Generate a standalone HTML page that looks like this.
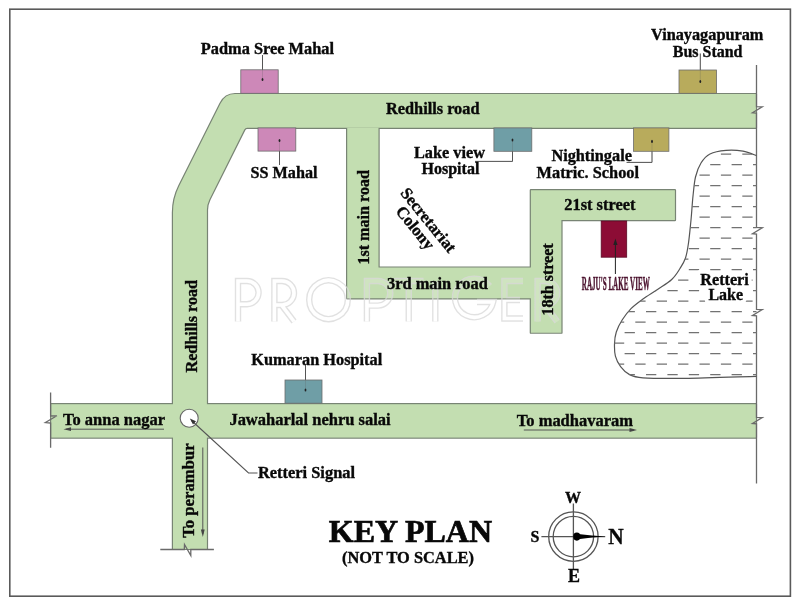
<!DOCTYPE html>
<html><head><meta charset="utf-8"><style>
html,body{margin:0;padding:0;background:#fff;width:800px;height:607px;overflow:hidden}
svg{display:block;position:absolute;left:0;top:0;filter:blur(0.35px)}
text{font-family:"Liberation Serif",serif;font-weight:bold;fill:#080808;stroke:#080808;stroke-width:0.35px}
</style></head><body>
<svg width="800" height="607" viewBox="0 0 800 607">
<rect x="0" y="0" width="800" height="607" fill="#fff"/>
<!-- frame -->
<rect x="9.8" y="9.2" width="780.6" height="587" fill="none" stroke="#5a5a5a" stroke-width="1.6"/>

<!-- roads: stroke layer -->
<g fill="#c3deb1" stroke="#788474" stroke-width="2.4" stroke-linejoin="round">
  <path d="M755.9 94.1 L235 94.1 Q225.25 94.1 220.55 103.5 L179.26 186.1 Q173 198.6 173 212.6 L173 548.9 L206.9 548.9 L206.9 210 Q206.9 204.4 209.4 199.4 L244.3 129.6 Q245.2 127.8 247.2 127.8 L755.9 127.8 Z"/>
  <rect x="51.2" y="404.2" width="704.7" height="33.4"/>
  <path d="M347.2 127.8 L347.2 298.3 L530.9 298.3 L530.9 332.65 L561.4 332.65 L561.4 220 L674.9 220 L674.9 190.3 L530.9 190.3 L530.9 267.6 L378.5 267.6 L378.5 127.8 Z"/>
</g>
<g fill="#c3deb1" stroke="none">
  <path d="M755.9 94.1 L235 94.1 Q225.25 94.1 220.55 103.5 L179.26 186.1 Q173 198.6 173 212.6 L173 548.9 L206.9 548.9 L206.9 210 Q206.9 204.4 209.4 199.4 L244.3 129.6 Q245.2 127.8 247.2 127.8 L755.9 127.8 Z"/>
  <rect x="51.2" y="404.2" width="704.7" height="33.4"/>
  <path d="M347.2 127.8 L347.2 298.3 L530.9 298.3 L530.9 332.65 L561.4 332.65 L561.4 220 L674.9 220 L674.9 190.3 L530.9 190.3 L530.9 267.6 L378.5 267.6 L378.5 127.8 Z"/>
</g>
<!-- watermark -->
<defs>
  <path id="wm" d="M238 321.5 V281 H247 A11.6 11.6 0 0 1 247 304.2 H238 M274.4 321.5 V281 H282 A12 12 0 0 1 282 305 H274.4 M281.5 305 L294 321.5 M347.8 299.7 A19.3 19.3 0 1 1 347.8 299.6 M366.9 321.5 V281 H378 A12.3 12.3 0 0 1 378 305.6 H366.9 M394 281 H423.5 M408.75 281 V321.5 M435.3 281 V321.5 M489.5 286 A19.3 19.3 0 1 0 493.2 302 H477 M523 281 H504.4 V318.5 H523 M504.4 300 H520 M537.6 321.5 V281 H545.2 A12 12 0 0 1 545.2 305 H537.6 M544.7 305 L557.2 321.5" fill="none"/>
  <mask id="wmmask" maskUnits="userSpaceOnUse" x="0" y="0" width="800" height="607">
    <use href="#wm" stroke="#fff" stroke-width="6.4"/>
    <use href="#wm" stroke="#000" stroke-width="3.6"/>
  </mask>
</defs>
<rect x="0" y="0" width="800" height="607" fill="#dadada" opacity="0.8" mask="url(#wmmask)"/>
<use href="#wm" stroke="#fff" stroke-width="3.6" opacity="0.2"/>
<!-- break lines -->
<g fill="none" stroke="#6a6a6a" stroke-width="1.3">
  <path d="M756.5 65 L756.5 106.6 L762.3 106.9 L752.5 112.8 L756.5 113.1 L756.5 227.5 L762.3 227.8 L752.5 233.7 L756.5 234.0 L756.5 309.3 L762.3 309.6 L752.5 315.5 L756.5 315.8 L756.5 417.3 L762.3 417.6 L752.5 423.5 L756.5 423.8 L756.5 483.5"/>
  <path d="M50.6 392.5 L50.6 416 L56.9 415.8 L45.4 422.5 L50.6 423 L50.6 447.8"/>
  <path d="M160.3 549.5 L184.3 549.5 L184.5 544.5 L190.8 555.6 L190.8 549.5 L213.9 549.5"/>
</g>

<!-- lake -->
<path d="M756.5 155.7 C754.2 154.9 748.1 152.1 743.0 151.2 C737.9 150.3 731.5 149.9 726.0 150.4 C720.5 150.9 714.2 151.9 710.0 154.0 C705.8 156.1 703.4 159.2 701.0 163.0 C698.6 166.8 696.8 171.5 695.5 177.0 C694.2 182.5 693.8 188.8 693.0 196.0 C692.2 203.2 691.8 212.2 691.0 220.0 C690.2 227.8 689.4 236.7 688.5 243.0 C687.6 249.3 686.9 253.8 685.5 258.0 C684.1 262.2 682.3 264.9 680.0 268.5 C677.7 272.1 675.5 276.0 671.7 279.5 C668.0 283.0 662.3 286.2 657.5 289.5 C652.7 292.8 647.4 295.8 643.0 299.0 C638.6 302.2 634.5 305.1 631.0 308.6 C627.5 312.1 624.8 315.9 622.3 319.8 C619.8 323.7 617.6 328.0 616.3 332.0 C615.0 336.0 614.6 340.0 614.5 344.0 C614.4 348.0 614.4 352.4 615.4 356.2 C616.4 360.0 618.3 363.6 620.6 366.6 C622.9 369.6 625.5 372.5 629.2 374.4 C632.9 376.3 633.7 377.1 643.0 377.8 C652.3 378.5 666.1 378.6 685.0 378.3 C703.9 378.1 744.6 376.6 756.5 376.3" fill="none" stroke="#555" stroke-width="1.2"/>

<!-- leader lines -->
<g fill="none" stroke="#555" stroke-width="1">
  <path d="M262.5 55 L262.5 79"/>
  <path d="M700.3 53.5 L700.3 81"/>
  <path d="M279.5 140.5 L279.5 165"/>
  <path d="M512.5 140 L512.5 161.4 L475 161.4"/>
  <path d="M652 141.4 L652 162.4 L626.6 162.4"/>
  <path d="M305.5 365 L305.5 390"/>
</g>
<!-- landmark boxes -->
<g stroke="#6d6d6d" stroke-width="0.8">
  <rect x="240.8" y="69.8" width="37.4" height="23.5" fill="#cd88b8"/>
  <rect x="258" y="127.9" width="37.8" height="23.2" fill="#cd88b8"/>
  <rect x="493.9" y="127.9" width="37.9" height="23.4" fill="#6f9ea6"/>
  <rect x="679" y="70" width="37.6" height="23.3" fill="#b8ab5c"/>
  <rect x="633.5" y="127.9" width="35.4" height="23.4" fill="#b8ab5c"/>
  <rect x="285" y="380" width="37" height="23.2" fill="#6f9ea6"/>
  <rect x="601.2" y="221" width="25.5" height="36.2" fill="#8c0c35" stroke="#5a0a25"/>
</g>
<!-- faint leaders over boxes -->
<g fill="none" stroke="#555" stroke-width="1" opacity="0.22">
  <path d="M262.5 55 L262.5 79"/>
  <path d="M700.3 53.5 L700.3 81"/>
  <path d="M279.5 140.5 L279.5 165"/>
  <path d="M512.5 140 L512.5 161.4 L475 161.4"/>
  <path d="M652 141.4 L652 162.4 L626.6 162.4"/>
  <path d="M305.5 365 L305.5 390"/>
</g>
<g fill="#222">
  <ellipse cx="262.5" cy="79.5" rx="0.9" ry="1.6"/>
  <ellipse cx="700.3" cy="81.5" rx="0.9" ry="1.6"/>
  <ellipse cx="279.5" cy="140.5" rx="0.9" ry="1.6"/>
  <ellipse cx="512.5" cy="140" rx="0.9" ry="1.6"/>
  <ellipse cx="652" cy="141.4" rx="0.9" ry="1.6"/>
  <ellipse cx="305.5" cy="390" rx="0.9" ry="1.6"/>
</g>
<!-- raju arrow -->
<path d="M615.4 274 L615.4 243" stroke="#222" stroke-width="1" fill="none"/>
<path d="M615.4 238.5 L613.3 245 L617.5 245 Z" fill="#222"/>

<!-- signal -->
<circle cx="189.2" cy="418.2" r="9" fill="#fff" stroke="#666" stroke-width="1.1"/>
<path d="M191.5 420.5 L248.5 473 L257.5 473" fill="none" stroke="#555" stroke-width="1.1"/>
<path d="M189.8 418.6 L196 421.2 L193 424.4 Z" fill="#333"/>

<!-- direction arrows -->
<g fill="none" stroke="#555" stroke-width="1">
  <path d="M66 429.2 L164 429.2"/>
  <path d="M523.8 430 L634 430"/>
  <path d="M202.8 447.5 L202.8 534"/>
</g>
<g fill="#444">
  <path d="M63.5 429.2 L71 427.3 L71 431.1 Z"/>
  <path d="M637 430 L629.5 428.1 L629.5 431.9 Z"/>
  <path d="M202.8 537 L200.9 529.5 L204.7 529.5 Z"/>
</g>

<!-- lake dashes -->
<clipPath id="lk"><path d="M756.5 155.7 C754.2 154.9 748.1 152.1 743.0 151.2 C737.9 150.3 731.5 149.9 726.0 150.4 C720.5 150.9 714.2 151.9 710.0 154.0 C705.8 156.1 703.4 159.2 701.0 163.0 C698.6 166.8 696.8 171.5 695.5 177.0 C694.2 182.5 693.8 188.8 693.0 196.0 C692.2 203.2 691.8 212.2 691.0 220.0 C690.2 227.8 689.4 236.7 688.5 243.0 C687.6 249.3 686.9 253.8 685.5 258.0 C684.1 262.2 682.3 264.9 680.0 268.5 C677.7 272.1 675.5 276.0 671.7 279.5 C668.0 283.0 662.3 286.2 657.5 289.5 C652.7 292.8 647.4 295.8 643.0 299.0 C638.6 302.2 634.5 305.1 631.0 308.6 C627.5 312.1 624.8 315.9 622.3 319.8 C619.8 323.7 617.6 328.0 616.3 332.0 C615.0 336.0 614.6 340.0 614.5 344.0 C614.4 348.0 614.4 352.4 615.4 356.2 C616.4 360.0 618.3 363.6 620.6 366.6 C622.9 369.6 625.5 372.5 629.2 374.4 C632.9 376.3 633.7 377.1 643.0 377.8 C652.3 378.5 666.1 378.6 685.0 378.3 C703.9 378.1 744.6 376.6 756.5 376.3 Z"/></clipPath>
<g clip-path="url(#lk)" stroke="#727272" stroke-width="1.15">
<line x1="592.5" y1="154.05" x2="602.8" y2="154.05"/>
<line x1="613.9" y1="154.05" x2="624.2" y2="154.05"/>
<line x1="635.3" y1="154.05" x2="645.6" y2="154.05"/>
<line x1="656.7" y1="154.05" x2="667.0" y2="154.05"/>
<line x1="678.1" y1="154.05" x2="688.4" y2="154.05"/>
<line x1="699.5" y1="154.05" x2="709.8" y2="154.05"/>
<line x1="720.9" y1="154.05" x2="731.2" y2="154.05"/>
<line x1="742.3" y1="154.05" x2="752.6" y2="154.05"/>
<line x1="581.8" y1="164.55" x2="592.1" y2="164.55"/>
<line x1="603.2" y1="164.55" x2="613.5" y2="164.55"/>
<line x1="624.6" y1="164.55" x2="634.9" y2="164.55"/>
<line x1="646.0" y1="164.55" x2="656.3" y2="164.55"/>
<line x1="667.4" y1="164.55" x2="677.7" y2="164.55"/>
<line x1="688.8" y1="164.55" x2="699.1" y2="164.55"/>
<line x1="710.2" y1="164.55" x2="720.5" y2="164.55"/>
<line x1="731.6" y1="164.55" x2="741.9" y2="164.55"/>
<line x1="753.0" y1="164.55" x2="763.3" y2="164.55"/>
<line x1="592.5" y1="175.05" x2="602.8" y2="175.05"/>
<line x1="613.9" y1="175.05" x2="624.2" y2="175.05"/>
<line x1="635.3" y1="175.05" x2="645.6" y2="175.05"/>
<line x1="656.7" y1="175.05" x2="667.0" y2="175.05"/>
<line x1="678.1" y1="175.05" x2="688.4" y2="175.05"/>
<line x1="699.5" y1="175.05" x2="709.8" y2="175.05"/>
<line x1="720.9" y1="175.05" x2="731.2" y2="175.05"/>
<line x1="742.3" y1="175.05" x2="752.6" y2="175.05"/>
<line x1="581.8" y1="185.55" x2="592.1" y2="185.55"/>
<line x1="603.2" y1="185.55" x2="613.5" y2="185.55"/>
<line x1="624.6" y1="185.55" x2="634.9" y2="185.55"/>
<line x1="646.0" y1="185.55" x2="656.3" y2="185.55"/>
<line x1="667.4" y1="185.55" x2="677.7" y2="185.55"/>
<line x1="688.8" y1="185.55" x2="699.1" y2="185.55"/>
<line x1="710.2" y1="185.55" x2="720.5" y2="185.55"/>
<line x1="731.6" y1="185.55" x2="741.9" y2="185.55"/>
<line x1="753.0" y1="185.55" x2="763.3" y2="185.55"/>
<line x1="592.5" y1="196.05" x2="602.8" y2="196.05"/>
<line x1="613.9" y1="196.05" x2="624.2" y2="196.05"/>
<line x1="635.3" y1="196.05" x2="645.6" y2="196.05"/>
<line x1="656.7" y1="196.05" x2="667.0" y2="196.05"/>
<line x1="678.1" y1="196.05" x2="688.4" y2="196.05"/>
<line x1="699.5" y1="196.05" x2="709.8" y2="196.05"/>
<line x1="720.9" y1="196.05" x2="731.2" y2="196.05"/>
<line x1="742.3" y1="196.05" x2="752.6" y2="196.05"/>
<line x1="581.8" y1="206.55" x2="592.1" y2="206.55"/>
<line x1="603.2" y1="206.55" x2="613.5" y2="206.55"/>
<line x1="624.6" y1="206.55" x2="634.9" y2="206.55"/>
<line x1="646.0" y1="206.55" x2="656.3" y2="206.55"/>
<line x1="667.4" y1="206.55" x2="677.7" y2="206.55"/>
<line x1="688.8" y1="206.55" x2="699.1" y2="206.55"/>
<line x1="710.2" y1="206.55" x2="720.5" y2="206.55"/>
<line x1="731.6" y1="206.55" x2="741.9" y2="206.55"/>
<line x1="753.0" y1="206.55" x2="763.3" y2="206.55"/>
<line x1="592.5" y1="217.05" x2="602.8" y2="217.05"/>
<line x1="613.9" y1="217.05" x2="624.2" y2="217.05"/>
<line x1="635.3" y1="217.05" x2="645.6" y2="217.05"/>
<line x1="656.7" y1="217.05" x2="667.0" y2="217.05"/>
<line x1="678.1" y1="217.05" x2="688.4" y2="217.05"/>
<line x1="699.5" y1="217.05" x2="709.8" y2="217.05"/>
<line x1="720.9" y1="217.05" x2="731.2" y2="217.05"/>
<line x1="742.3" y1="217.05" x2="752.6" y2="217.05"/>
<line x1="581.8" y1="227.55" x2="592.1" y2="227.55"/>
<line x1="603.2" y1="227.55" x2="613.5" y2="227.55"/>
<line x1="624.6" y1="227.55" x2="634.9" y2="227.55"/>
<line x1="646.0" y1="227.55" x2="656.3" y2="227.55"/>
<line x1="667.4" y1="227.55" x2="677.7" y2="227.55"/>
<line x1="688.8" y1="227.55" x2="699.1" y2="227.55"/>
<line x1="710.2" y1="227.55" x2="720.5" y2="227.55"/>
<line x1="731.6" y1="227.55" x2="741.9" y2="227.55"/>
<line x1="753.0" y1="227.55" x2="763.3" y2="227.55"/>
<line x1="592.5" y1="238.05" x2="602.8" y2="238.05"/>
<line x1="613.9" y1="238.05" x2="624.2" y2="238.05"/>
<line x1="635.3" y1="238.05" x2="645.6" y2="238.05"/>
<line x1="656.7" y1="238.05" x2="667.0" y2="238.05"/>
<line x1="678.1" y1="238.05" x2="688.4" y2="238.05"/>
<line x1="699.5" y1="238.05" x2="709.8" y2="238.05"/>
<line x1="720.9" y1="238.05" x2="731.2" y2="238.05"/>
<line x1="742.3" y1="238.05" x2="752.6" y2="238.05"/>
<line x1="581.8" y1="248.55" x2="592.1" y2="248.55"/>
<line x1="603.2" y1="248.55" x2="613.5" y2="248.55"/>
<line x1="624.6" y1="248.55" x2="634.9" y2="248.55"/>
<line x1="646.0" y1="248.55" x2="656.3" y2="248.55"/>
<line x1="667.4" y1="248.55" x2="677.7" y2="248.55"/>
<line x1="688.8" y1="248.55" x2="699.1" y2="248.55"/>
<line x1="710.2" y1="248.55" x2="720.5" y2="248.55"/>
<line x1="731.6" y1="248.55" x2="741.9" y2="248.55"/>
<line x1="753.0" y1="248.55" x2="763.3" y2="248.55"/>
<line x1="592.5" y1="259.05" x2="602.8" y2="259.05"/>
<line x1="613.9" y1="259.05" x2="624.2" y2="259.05"/>
<line x1="635.3" y1="259.05" x2="645.6" y2="259.05"/>
<line x1="656.7" y1="259.05" x2="667.0" y2="259.05"/>
<line x1="678.1" y1="259.05" x2="688.4" y2="259.05"/>
<line x1="699.5" y1="259.05" x2="709.8" y2="259.05"/>
<line x1="720.9" y1="259.05" x2="731.2" y2="259.05"/>
<line x1="742.3" y1="259.05" x2="752.6" y2="259.05"/>
<line x1="581.8" y1="269.55" x2="592.1" y2="269.55"/>
<line x1="603.2" y1="269.55" x2="613.5" y2="269.55"/>
<line x1="624.6" y1="269.55" x2="634.9" y2="269.55"/>
<line x1="646.0" y1="269.55" x2="656.3" y2="269.55"/>
<line x1="667.4" y1="269.55" x2="677.7" y2="269.55"/>
<line x1="688.8" y1="269.55" x2="699.1" y2="269.55"/>
<line x1="710.2" y1="269.55" x2="720.5" y2="269.55"/>
<line x1="731.6" y1="269.55" x2="741.9" y2="269.55"/>
<line x1="753.0" y1="269.55" x2="763.3" y2="269.55"/>
<line x1="592.5" y1="280.05" x2="602.8" y2="280.05"/>
<line x1="613.9" y1="280.05" x2="624.2" y2="280.05"/>
<line x1="635.3" y1="280.05" x2="645.6" y2="280.05"/>
<line x1="656.7" y1="280.05" x2="667.0" y2="280.05"/>
<line x1="678.1" y1="280.05" x2="688.4" y2="280.05"/>
<line x1="699.5" y1="280.05" x2="709.8" y2="280.05"/>
<line x1="720.9" y1="280.05" x2="731.2" y2="280.05"/>
<line x1="742.3" y1="280.05" x2="752.6" y2="280.05"/>
<line x1="581.8" y1="290.55" x2="592.1" y2="290.55"/>
<line x1="603.2" y1="290.55" x2="613.5" y2="290.55"/>
<line x1="624.6" y1="290.55" x2="634.9" y2="290.55"/>
<line x1="646.0" y1="290.55" x2="656.3" y2="290.55"/>
<line x1="667.4" y1="290.55" x2="677.7" y2="290.55"/>
<line x1="688.8" y1="290.55" x2="699.1" y2="290.55"/>
<line x1="710.2" y1="290.55" x2="720.5" y2="290.55"/>
<line x1="731.6" y1="290.55" x2="741.9" y2="290.55"/>
<line x1="753.0" y1="290.55" x2="763.3" y2="290.55"/>
<line x1="592.5" y1="301.05" x2="602.8" y2="301.05"/>
<line x1="613.9" y1="301.05" x2="624.2" y2="301.05"/>
<line x1="635.3" y1="301.05" x2="645.6" y2="301.05"/>
<line x1="656.7" y1="301.05" x2="667.0" y2="301.05"/>
<line x1="678.1" y1="301.05" x2="688.4" y2="301.05"/>
<line x1="699.5" y1="301.05" x2="709.8" y2="301.05"/>
<line x1="720.9" y1="301.05" x2="731.2" y2="301.05"/>
<line x1="742.3" y1="301.05" x2="752.6" y2="301.05"/>
<line x1="581.8" y1="311.55" x2="592.1" y2="311.55"/>
<line x1="603.2" y1="311.55" x2="613.5" y2="311.55"/>
<line x1="624.6" y1="311.55" x2="634.9" y2="311.55"/>
<line x1="646.0" y1="311.55" x2="656.3" y2="311.55"/>
<line x1="667.4" y1="311.55" x2="677.7" y2="311.55"/>
<line x1="688.8" y1="311.55" x2="699.1" y2="311.55"/>
<line x1="710.2" y1="311.55" x2="720.5" y2="311.55"/>
<line x1="731.6" y1="311.55" x2="741.9" y2="311.55"/>
<line x1="753.0" y1="311.55" x2="763.3" y2="311.55"/>
<line x1="592.5" y1="322.05" x2="602.8" y2="322.05"/>
<line x1="613.9" y1="322.05" x2="624.2" y2="322.05"/>
<line x1="635.3" y1="322.05" x2="645.6" y2="322.05"/>
<line x1="656.7" y1="322.05" x2="667.0" y2="322.05"/>
<line x1="678.1" y1="322.05" x2="688.4" y2="322.05"/>
<line x1="699.5" y1="322.05" x2="709.8" y2="322.05"/>
<line x1="720.9" y1="322.05" x2="731.2" y2="322.05"/>
<line x1="742.3" y1="322.05" x2="752.6" y2="322.05"/>
<line x1="581.8" y1="332.55" x2="592.1" y2="332.55"/>
<line x1="603.2" y1="332.55" x2="613.5" y2="332.55"/>
<line x1="624.6" y1="332.55" x2="634.9" y2="332.55"/>
<line x1="646.0" y1="332.55" x2="656.3" y2="332.55"/>
<line x1="667.4" y1="332.55" x2="677.7" y2="332.55"/>
<line x1="688.8" y1="332.55" x2="699.1" y2="332.55"/>
<line x1="710.2" y1="332.55" x2="720.5" y2="332.55"/>
<line x1="731.6" y1="332.55" x2="741.9" y2="332.55"/>
<line x1="753.0" y1="332.55" x2="763.3" y2="332.55"/>
<line x1="592.5" y1="343.05" x2="602.8" y2="343.05"/>
<line x1="613.9" y1="343.05" x2="624.2" y2="343.05"/>
<line x1="635.3" y1="343.05" x2="645.6" y2="343.05"/>
<line x1="656.7" y1="343.05" x2="667.0" y2="343.05"/>
<line x1="678.1" y1="343.05" x2="688.4" y2="343.05"/>
<line x1="699.5" y1="343.05" x2="709.8" y2="343.05"/>
<line x1="720.9" y1="343.05" x2="731.2" y2="343.05"/>
<line x1="742.3" y1="343.05" x2="752.6" y2="343.05"/>
<line x1="581.8" y1="353.55" x2="592.1" y2="353.55"/>
<line x1="603.2" y1="353.55" x2="613.5" y2="353.55"/>
<line x1="624.6" y1="353.55" x2="634.9" y2="353.55"/>
<line x1="646.0" y1="353.55" x2="656.3" y2="353.55"/>
<line x1="667.4" y1="353.55" x2="677.7" y2="353.55"/>
<line x1="688.8" y1="353.55" x2="699.1" y2="353.55"/>
<line x1="710.2" y1="353.55" x2="720.5" y2="353.55"/>
<line x1="731.6" y1="353.55" x2="741.9" y2="353.55"/>
<line x1="753.0" y1="353.55" x2="763.3" y2="353.55"/>
<line x1="592.5" y1="364.05" x2="602.8" y2="364.05"/>
<line x1="613.9" y1="364.05" x2="624.2" y2="364.05"/>
<line x1="635.3" y1="364.05" x2="645.6" y2="364.05"/>
<line x1="656.7" y1="364.05" x2="667.0" y2="364.05"/>
<line x1="678.1" y1="364.05" x2="688.4" y2="364.05"/>
<line x1="699.5" y1="364.05" x2="709.8" y2="364.05"/>
<line x1="720.9" y1="364.05" x2="731.2" y2="364.05"/>
<line x1="742.3" y1="364.05" x2="752.6" y2="364.05"/>
<line x1="581.8" y1="374.55" x2="592.1" y2="374.55"/>
<line x1="603.2" y1="374.55" x2="613.5" y2="374.55"/>
<line x1="624.6" y1="374.55" x2="634.9" y2="374.55"/>
<line x1="646.0" y1="374.55" x2="656.3" y2="374.55"/>
<line x1="667.4" y1="374.55" x2="677.7" y2="374.55"/>
<line x1="688.8" y1="374.55" x2="699.1" y2="374.55"/>
<line x1="710.2" y1="374.55" x2="720.5" y2="374.55"/>
<line x1="731.6" y1="374.55" x2="741.9" y2="374.55"/>
<line x1="753.0" y1="374.55" x2="763.3" y2="374.55"/>
</g>

<!-- labels -->
<g font-size="16.3">
  <text x="200.8" y="54.4" textLength="133.2" lengthAdjust="spacingAndGlyphs">Padma Sree Mahal</text>
  <text x="651" y="39.8" textLength="112.4" lengthAdjust="spacingAndGlyphs">Vinayagapuram</text>
  <text x="672.8" y="56.8" textLength="69.7" lengthAdjust="spacingAndGlyphs">Bus Stand</text>
  <text x="386" y="114" textLength="93.5" lengthAdjust="spacingAndGlyphs">Redhills road</text>
  <text x="414" y="157.6" textLength="71" lengthAdjust="spacingAndGlyphs">Lake view</text>
  <text x="421.4" y="174" textLength="58" lengthAdjust="spacingAndGlyphs">Hospital</text>
  <text x="551.4" y="161" textLength="80.5" lengthAdjust="spacingAndGlyphs">Nightingale</text>
  <text x="536.6" y="177.6" textLength="102.4" lengthAdjust="spacingAndGlyphs">Matric. School</text>
  <text x="250.5" y="177.5" textLength="67" lengthAdjust="spacingAndGlyphs">SS Mahal</text>
  <text x="564.3" y="209.6" textLength="71.1" lengthAdjust="spacingAndGlyphs">21st street</text>
  <text x="387" y="288.7" textLength="100.8" lengthAdjust="spacingAndGlyphs">3rd main road</text>
  <text x="251.3" y="364.5" textLength="130.9" lengthAdjust="spacingAndGlyphs">Kumaran Hospital</text>
  <text x="229.4" y="425.1" textLength="161.2" lengthAdjust="spacingAndGlyphs">Jawaharlal nehru salai</text>
  <text x="516.8" y="425.5" textLength="116.2" lengthAdjust="spacingAndGlyphs">To madhavaram</text>
  <text x="63" y="425" textLength="102" lengthAdjust="spacingAndGlyphs">To anna nagar</text>
  <text x="258" y="478" textLength="97" lengthAdjust="spacingAndGlyphs">Retteri Signal</text>
  <text transform="translate(197.1,372.5) rotate(-90)" textLength="92.5" lengthAdjust="spacingAndGlyphs">Redhills road</text>
  <text transform="translate(194.4,537.8) rotate(-90)" textLength="94.5" lengthAdjust="spacingAndGlyphs">To perambur</text>
  <text transform="translate(368.7,264.6) rotate(-90)" textLength="94.6" lengthAdjust="spacingAndGlyphs">1st main road</text>
  <text transform="translate(552.6,315.6) rotate(-90)" textLength="72.3" lengthAdjust="spacingAndGlyphs">18th street</text>
  <g transform="translate(424.3,223.6) rotate(51)" font-size="16.6">
    <text x="0" y="0" text-anchor="middle">Secretariat</text>
    <text x="-2.5" y="15.2" text-anchor="middle">Colony</text>
  </g>
</g>
<g font-size="16.3">
  <text x="700.3" y="284.6" textLength="48.5" lengthAdjust="spacingAndGlyphs" style="fill:#fff;stroke:#fff;stroke-width:8px;stroke-linejoin:round">Retteri</text>
  <text x="708.4" y="300.3" textLength="34.6" lengthAdjust="spacingAndGlyphs" style="fill:#fff;stroke:#fff;stroke-width:8px;stroke-linejoin:round">Lake</text>
  <text x="700.3" y="284.6" textLength="48.5" lengthAdjust="spacingAndGlyphs">Retteri</text>
  <text x="708.4" y="300.3" textLength="34.6" lengthAdjust="spacingAndGlyphs">Lake</text>
</g>
<text x="581.8" y="289.9" font-size="18.7" textLength="68" lengthAdjust="spacingAndGlyphs" style="fill:#4d1430;stroke:#4d1430;stroke-width:0.55">RAJU'S LAKE VIEW</text>
<text x="328.8" y="542" font-size="32.5" textLength="163.2" lengthAdjust="spacingAndGlyphs" style="stroke-width:0.7px">KEY PLAN</text>
<text x="342" y="563.2" font-size="16.3" textLength="132" lengthAdjust="spacingAndGlyphs">(NOT TO SCALE)</text>

<!-- compass -->
<g fill="none" stroke="#555" stroke-width="1.3">
  <circle cx="573.4" cy="536.6" r="24.7"/>
  <circle cx="573.4" cy="536.6" r="20.2"/>
  <path d="M573.4 503.6 L573.4 569.7 M541.4 536.6 L605.2 536.6"/>
</g>
<ellipse cx="576.8" cy="536.6" rx="3.6" ry="4.1" fill="#000"/>
<path d="M578 534 L592 535.4 L605.5 536.4 L592 537.6 L578 539.2 Z" fill="#000"/>
<text x="573" y="502.7" font-size="16" text-anchor="middle">W</text>
<text x="535" y="541.6" font-size="16" text-anchor="middle">S</text>
<text x="574" y="581.5" font-size="18" text-anchor="middle">E</text>
<text x="616" y="543.8" font-size="23" text-anchor="middle" transform="translate(616 0) scale(0.93 1) translate(-616 0)">N</text>
</svg>
</body></html>
